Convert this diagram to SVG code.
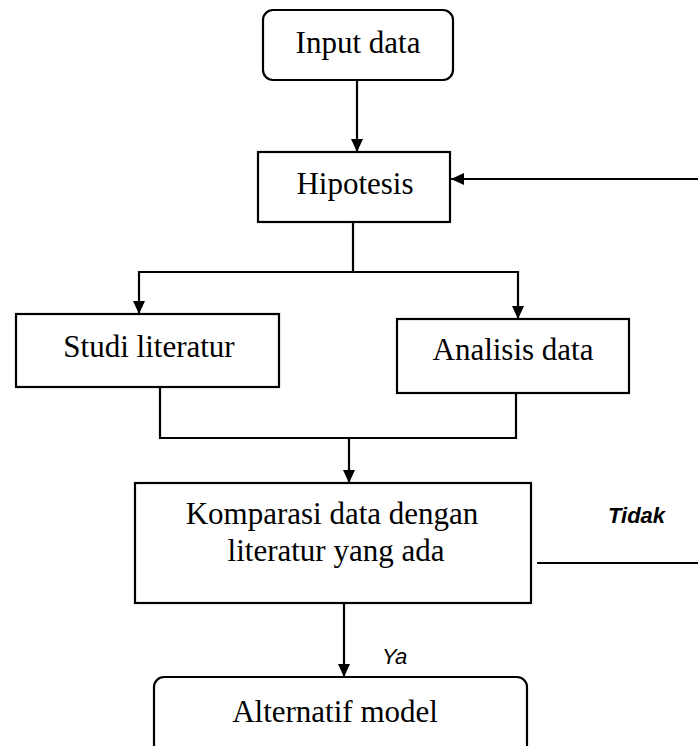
<svg xmlns="http://www.w3.org/2000/svg" width="698" height="746" viewBox="0 0 698 746">
<style>
.box{fill:#ffffff;stroke:#000000;stroke-width:2.2}
.lbl{font-family:"Liberation Serif","Times New Roman",serif;font-size:31px;fill:#000000;text-anchor:middle}
.note{font-family:"Liberation Sans",Arial,sans-serif;font-style:italic;font-size:22px;fill:#000000}
.con{fill:none;stroke:#000000;stroke-width:2.2}
</style>
<defs>
<marker id="ah" markerUnits="userSpaceOnUse" markerWidth="14" markerHeight="12" refX="13" refY="6" orient="auto">
<path d="M0,0 L13,6 L0,12 z" fill="#000000"/>
</marker>
</defs>
<rect width="698" height="746" fill="#ffffff"/>
<g id="connectors">
<path class="con" d="M357,80 V152" marker-end="url(#ah)"/>
<path class="con" d="M698,179 H451" marker-end="url(#ah)"/>
<path class="con" d="M353,222 V272"/>
<path class="con" d="M353,272 H139 V314" marker-end="url(#ah)"/>
<path class="con" d="M353,272 H518 V319" marker-end="url(#ah)"/>
<path class="con" d="M160,387 V438 H516 V393"/>
<path class="con" d="M349,438 V483" marker-end="url(#ah)"/>
<path class="con" d="M344,603 V677" marker-end="url(#ah)"/>
<path class="con" d="M537,563 H698"/>
</g>
<g id="input-data">
<rect class="box" x="263" y="10" width="190" height="70" rx="10"/>
<text class="lbl" x="358" y="53">Input data</text>
</g>
<g id="hipotesis">
<rect class="box" x="258" y="152" width="192" height="70"/>
<text class="lbl" x="355" y="194">Hipotesis</text>
</g>
<g id="studi-literatur">
<rect class="box" x="16" y="314" width="263" height="73"/>
<text class="lbl" x="149" y="357">Studi literatur</text>
</g>
<g id="analisis-data">
<rect class="box" x="397" y="319" width="232" height="74"/>
<text class="lbl" x="513" y="360">Analisis data</text>
</g>
<g id="komparasi">
<rect class="box" x="135" y="483" width="396" height="120"/>
<text class="lbl" x="332" y="524">Komparasi data dengan</text>
<text class="lbl" x="336" y="561">literatur yang ada</text>
</g>
<g id="label-tidak">
<text class="note" x="608" y="523" font-weight="bold" font-size="21">Tidak</text>
</g>
<g id="label-ya">
<text class="note" x="382" y="664">Ya</text>
</g>
<g id="alternatif-model">
<rect class="box" x="154" y="677" width="373" height="100" rx="10"/>
<text class="lbl" x="335" y="722">Alternatif model</text>
</g>
</svg>
